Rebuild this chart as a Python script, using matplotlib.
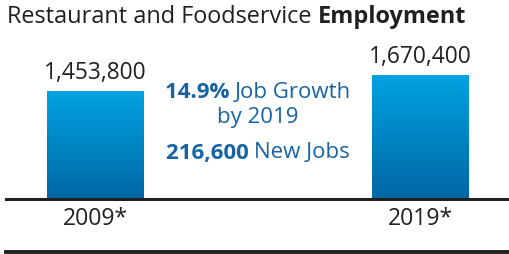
import numpy as np
import matplotlib.pyplot as plt
from matplotlib.colors import LinearSegmentedColormap

years = ['2009*', '2019*']
employment = [1453800, 1670400]
value_labels = ['1,453,800', '1,670,400']
growth_pct = '14.9%'
new_jobs = '216,600'

plt.rcParams['font.family'] = ['Open Sans', 'DejaVu Sans']
dark = '#231f20'
blue = '#1764A4'

W, H = 509, 254
fig = plt.figure(figsize=(W/100, H/100), dpi=100)
ax = fig.add_axes([0, 55/H, 1, 144/H])
x = np.arange(len(years))
bars = ax.bar(x, employment, width=0.298, color='none')
ax.axis('off')

# gradient fill for bars
cmap = LinearSegmentedColormap.from_list('g', ['#0066A4', '#00A3E2'])
grad = np.linspace(0, 1, 256).reshape(-1, 1)
for b in bars:
    x0, w, h = b.get_x(), b.get_width(), b.get_height()
    im = ax.imshow(grad, extent=[x0, x0 + w, 0, h], origin='lower', cmap=cmap,
                   aspect='auto', zorder=2)
    im.set_clip_path(b)
ax.set_xlim(-0.294, 1.272)
ax.set_ylim(0, 144/108*employment[0])

for xi, v, lab, yr in zip(x, employment, value_labels, years):
    ax.annotate(lab, (xi, v), xytext=(0, 6), textcoords='offset pixels',
                ha='center', va='bottom', fontsize=16.4, color=dark)
    ax.annotate(yr, (xi, 0), xytext=(0, -20), textcoords='offset pixels',
                ha='center', va='center', fontsize=16.6, color=dark, annotation_clip=False)

# baseline and bottom rule
fig.add_artist(plt.Line2D([6/W, 1], [55/H, 55/H], color=dark, lw=2.2))
fig.add_artist(plt.Line2D([6/W, 1], [2/H, 2/H], color=dark, lw=2.8))

fig.canvas.draw()
r = fig.canvas.get_renderer()

def line(y, parts, size, color, cx=None):
    texts = [fig.text(0, 1 - y/H, s, fontsize=size, color=color, fontweight=wt, va='center')
             for s, wt in parts]
    widths = [t.get_window_extent(r).width for t in texts]
    xs = 7 if cx is None else cx - sum(widths) / 2
    for t, w in zip(texts, widths):
        t.set_x(xs / W)
        xs += w

line(17, [('Restaurant and Foodservice ', 'normal'), ('Employment', 'bold')], 16.9, dark)
line(93, [(growth_pct + ' ', 'bold'), ('Job Growth', 'normal')], 16, blue, cx=258)
line(117, [('by 2019', 'normal')], 16, blue, cx=258)
line(153, [(new_jobs + ' ', 'bold'), ('New Jobs', 'normal')], 16, blue, cx=258)

fig.savefig('out.png', dpi=100)
